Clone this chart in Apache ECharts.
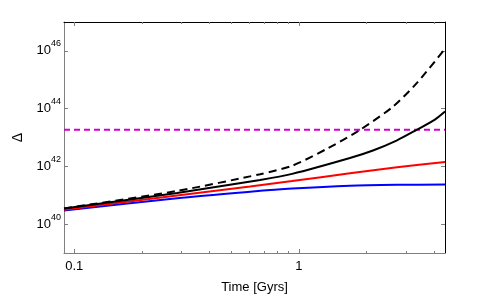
<!DOCTYPE html>
<html>
<head>
<meta charset="utf-8">
<script src="https://cdn.jsdelivr.net/npm/echarts@6/dist/echarts.min.js"></script>
<style>html,body{margin:0;padding:0;background:#fff}#c{width:492px;height:299px}</style>
</head>
<body>
<div id="c"></div>
<script>
// Time [Gyrs] and Delta values
var dashedTime = [0.09, 0.287, 0.673, 0.934, 1.35, 1.87, 2.63, 3.36, 4.48];
var dashedVals = [3.51e40, 1.41e41, 5.37e41, 1.05e42, 4.27e42, 1.82e43, 1.175e44, 7.76e44, 1.175e46];

var blackTime = [0.09, 0.287, 0.673, 0.934, 1.69, 2.14, 2.74, 3.29, 4.04, 4.48];
var blackVals = [3.47e40, 1.20e41, 3.39e41, 5.50e41, 1.95e42, 3.55e42, 8.0e42, 1.70e43, 4.17e43, 7.94e43];

var redTime = [0.09, 0.287, 0.607, 0.934, 1.69, 2.74, 4.48];
var redVals = [3.16e40, 9.77e40, 2.00e41, 3.09e41, 5.75e41, 9.33e41, 1.41e42];

var blueTime = [0.09, 0.287, 0.607, 0.934, 1.69, 2.74, 4.48];
var blueVals = [2.95e40, 7.94e40, 1.32e41, 1.70e41, 2.14e41, 2.29e41, 2.34e41];

var thresholdTime = [0.09, 4.48];
var thresholdVals = [1.86e43, 1.86e43];

var xMajorTicks = [0.1, 1];
var xMinorTicks = [0.2, 0.3, 0.4, 0.5, 0.6, 0.7, 0.8, 0.9, 2, 3, 4];
var yTicks = [1e40, 1e42, 1e44, 1e46];

function pairs(t, v) { return t.map(function (x, i) { return [x, v[i]]; }); }

var FONT = '"Liberation Sans", Arial, sans-serif';
var GRAY = '#7f7f7f';

function xAx(pos, major, lineColor, showLine, showLabel) {
  return {
    type: 'log', logBase: 10, position: pos, min: 0.09, max: 4.48,
    axisLine: { show: showLine, lineStyle: { color: lineColor, width: 1 } },
    axisTick: { show: true, inside: true, length: major ? 4 : 2,
      customValues: major ? xMajorTicks : xMinorTicks,
      lineStyle: { color: GRAY, width: 1 } },
    axisLabel: { show: showLabel, customValues: xMajorTicks, margin: 7,
      fontFamily: FONT, fontSize: 13, color: '#000',
      formatter: function (v) { return v >= 1 ? '1' : '0.1'; } },
    splitLine: { show: false }, minorTick: { show: false }
  };
}

var lineBase = { type: 'line', symbol: 'none', smooth: 0.25 };

var option = {
  animation: false,
  grid: { left: 64, right: 47, top: 22, bottom: 46, containLabel: false },
  xAxis: [
    Object.assign(xAx('bottom', true, GRAY, true, true), {
      name: 'Time [Gyrs]', nameLocation: 'middle', nameGap: 28,
      nameTextStyle: { fontFamily: FONT, fontSize: 13, color: '#000' }
    }),
    xAx('bottom', false, GRAY, false, false),
    xAx('top', true, '#000', true, false),
    xAx('top', false, '#000', false, false)
  ],
  yAxis: [
    {
      type: 'log', logBase: 10, position: 'left', min: 1e39, max: 1e47,
      axisLine: { show: true, lineStyle: { color: GRAY, width: 1 } },
      axisTick: { show: true, inside: true, length: 4, customValues: yTicks, lineStyle: { color: GRAY } },
      axisLabel: { customValues: yTicks, margin: 3, fontFamily: FONT,
        formatter: function (v) { return '{a|10}{b|' + Math.round(Math.log10(v)) + '}'; },
        rich: { a: { fontSize: 13, fontFamily: FONT, color: '#000' },
                b: { fontSize: 9, fontFamily: FONT, color: '#000', padding: [0, 0, 14, 0] } } },
      splitLine: { show: false }, minorTick: { show: false },
      name: 'Δ', nameLocation: 'middle', nameRotate: 90, nameGap: 36,
      nameTextStyle: { fontFamily: FONT, fontSize: 14, color: '#000' }
    },
    {
      type: 'log', logBase: 10, position: 'right', min: 1e39, max: 1e47,
      axisLine: { show: true, lineStyle: { color: '#000', width: 1 } },
      axisTick: { show: true, inside: true, length: 4, customValues: yTicks, lineStyle: { color: GRAY } },
      axisLabel: { show: false }, splitLine: { show: false }, minorTick: { show: false }
    }
  ],
  series: [
    Object.assign({}, lineBase, { name: 'threshold', data: pairs(thresholdTime, thresholdVals), smooth: false,
      lineStyle: { color: '#d000d0', width: 2, type: [6, 4] } }),
    Object.assign({}, lineBase, { name: 'blue', data: pairs(blueTime, blueVals),
      lineStyle: { color: '#0000ff', width: 2 } }),
    Object.assign({}, lineBase, { name: 'red', data: pairs(redTime, redVals),
      lineStyle: { color: '#ff0000', width: 2 } }),
    Object.assign({}, lineBase, { name: 'black', data: pairs(blackTime, blackVals),
      lineStyle: { color: '#000', width: 2 } }),
    Object.assign({}, lineBase, { name: 'dashed', data: pairs(dashedTime, dashedVals),
      lineStyle: { color: '#000', width: 2, type: [8, 5] } })
  ]
};
var chart = echarts.init(document.getElementById('c'), null, { renderer: 'canvas' });
chart.setOption(option);
</script>
</body>
</html>
